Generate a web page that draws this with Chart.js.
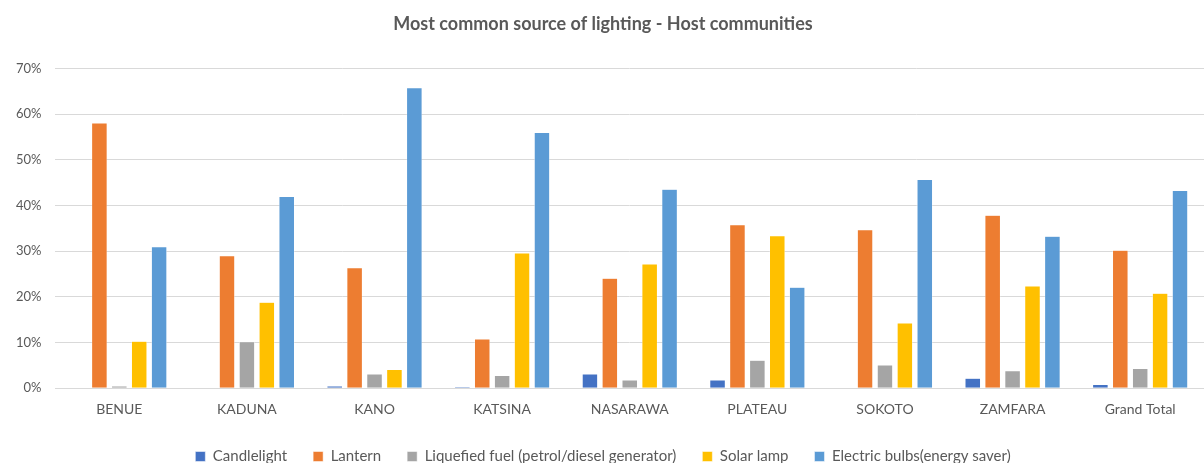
<!DOCTYPE html>
<html>
<head>
<meta charset="utf-8">
<script src="https://cdn.jsdelivr.net/npm/chart.js@4/dist/chart.umd.min.js"></script>
<style>
  html, body { margin: 0; padding: 0; background: #fff; }
  #wrap { width: 1204px; height: 463px; }
</style>
</head>
<body>
<div id="wrap"><canvas id="chart"></canvas></div>
<script>
const states = ['BENUE', 'KADUNA', 'KANO', 'KATSINA', 'NASARAWA', 'PLATEAU', 'SOKOTO', 'ZAMFARA', 'Grand Total'];

const candlelight = [0, 0, 0.5, 0.3, 3.1, 1.8, 0, 2.2, 0.8];
const lantern = [58.1, 29.0, 26.4, 10.8, 24.1, 35.8, 34.7, 37.9, 30.2];
const liquefiedFuel = [0.5, 10.2, 3.1, 2.8, 1.8, 6.1, 5.1, 3.8, 4.3];
const solarLamp = [10.3, 18.8, 4.1, 29.6, 27.2, 33.4, 14.3, 22.4, 20.8];
const electricBulbs = [31.0, 42.0, 65.8, 56.0, 43.6, 22.1, 45.7, 33.3, 43.3];

const yTicks = [0, 10, 20, 30, 40, 50, 60, 70];

const textColor = '#595959';
const fontFamily = 'Lato, "Open Sans", sans-serif';

function series(label, data, color) {
  return {
    label: label,
    data: data,
    backgroundColor: color,
    borderColor: '#ffffff',
    borderWidth: 0.5,
    categoryPercentage: 0.78,
    barPercentage: 0.78,
  };
}

new Chart(document.getElementById('chart'), {
  type: 'bar',
  data: {
    labels: states,
    datasets: [
      series('Candlelight', candlelight, '#4472c4'),
      series('Lantern', lantern, '#ed7d31'),
      series('Liquefied fuel (petrol/diesel generator)', liquefiedFuel, '#a5a5a5'),
      series('Solar lamp', solarLamp, '#ffc000'),
      series('Electric bulbs(energy saver)', electricBulbs, '#5b9bd5'),
    ]
  },
  options: {
    responsive: true,
    maintainAspectRatio: false,
    animation: false,
    layout: { padding: { left: 2, right: 0, top: 0, bottom: -11 } },
    plugins: {
      title: {
        display: true,
        text: 'Most common source of lighting - Host communities',
        color: textColor,
        font: { family: fontFamily, size: 18, weight: 'bold' },
        padding: { top: 13, bottom: 34 },
      },
      legend: {
        position: 'bottom',
        labels: {
          color: textColor,
          boxWidth: 10,
          boxHeight: 10,
          padding: 26,
          font: { family: fontFamily, size: 15 },
        }
      },
      tooltip: { enabled: false }
    },
    scales: {
      x: {
        grid: { display: false },
        border: { color: '#d9d9d9', width: 1 },
        ticks: {
          color: textColor,
          font: { family: fontFamily, size: 14 },
          maxRotation: 0,
          padding: 5,
        }
      },
      y: {
        min: 0,
        max: 70,
        afterBuildTicks: axis => { axis.ticks = yTicks.map(v => ({ value: v })); },
        grid: { color: '#d9d9d9', lineWidth: 1, drawTicks: false },
        border: { display: false },
        ticks: {
          color: textColor,
          font: { family: fontFamily, size: 13 },
          padding: 14,
          callback: v => v + '%',
        }
      }
    }
  }
});
</script>
</body>
</html>
